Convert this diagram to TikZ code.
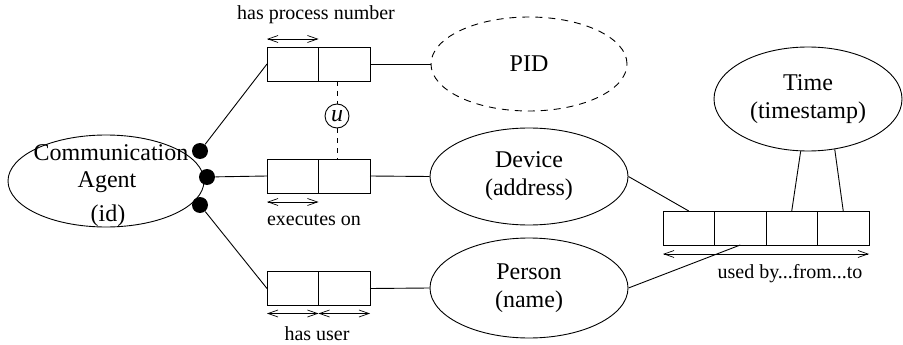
\documentclass[tikz,border=0pt]{standalone}
\usepackage{fontspec}
\setmainfont{Liberation Serif}
\usetikzlibrary{arrows.meta,shapes.geometric}

\begin{document}
\begin{tikzpicture}[x=1pt,y=-1pt, line width=0.9pt,
  big/.style={font=\fontsize{24}{28}\selectfont},
  small/.style={font=\fontsize{20}{24}\selectfont},
  ent/.style={draw, ellipse, inner sep=0pt, align=center, big},
  cell/.style={draw, minimum width=51.5pt, minimum height=34pt, inner sep=0pt, outer sep=0pt},
  card/.style={fill=black, circle, inner sep=0pt, minimum size=16pt},
  span/.style={{Straight Barb[length=10pt,width=7pt]}-{Straight Barb[length=10pt,width=7pt]}, line width=0.7pt},
  uline/.style={dash pattern=on 5pt off 5pt},
  ]
\useasboundingbox (0,0) rectangle (903,345);

% central entity
\node[ent, minimum width=196pt, minimum height=92pt] (agent) at (106,181) {};
\node[big, anchor=base] (agentA) at (111,160) {Communication};
\node[big, anchor=base] (agentB) at (107,187) {Agent};
\node[big, anchor=base] (agentC) at (108,221) {(id)};

% participation dots
\node[card] (d1) at (200,151) {};
\node[card] (d2) at (207,177) {};
\node[card] (d3) at (200,205) {};

% binary relationship boxes
\node[cell] (p1) at (292.75,64) {};
\node[cell] (p2) at (344.25,64) {};
\node[cell] (e1) at (292.75,176) {};
\node[cell] (e2) at (344.25,176) {};
\node[cell] (h1) at (292.75,288.5) {};
\node[cell] (h2) at (344.25,288.5) {};

% other entities
\node[ent, dash pattern=on 7pt off 6pt, minimum width=196pt, minimum height=94pt] (pid) at (529,64) {PID};
\node[ent, minimum width=198pt, minimum height=97pt] (dev) at (529,176.5) {Device\\(address)};
\node[ent, minimum width=198pt, minimum height=100pt] (per) at (529,288) {Person\\(name)};
\node[ent, minimum width=188pt, minimum height=104pt] (time) at (808,99) {Time\\(timestamp)};

% quaternary relationship box
\node[cell] (t1) at (688.75,228) {};
\node[cell] (t2) at (740.25,228) {};
\node[cell] (t3) at (791.75,228) {};
\node[cell] (t4) at (843.25,228) {};

% uniqueness constraint
\node[circle, draw, minimum size=24pt, inner sep=0pt, font=\itshape\fontsize{24}{24}\selectfont] (uniq) at (337,116) {u};

% connectors
\draw (d1) -- (p1.west);
\draw (d2) -- (e1.west);
\draw (d3) -- (h1.west);
\draw (p2.east) -- (pid.west);
\draw (e2.east) -- (dev.west);
\draw (h2.east) -- (per.west);
\draw (dev.east) -- (t1.north);
\draw (per.east) -- (t2.south);
\draw (t3.north) -- (time.262);
\draw (t4.north) -- (time.298);
\draw[uline] (p2.south -| uniq.north) -- (uniq.north);
\draw[uline] (uniq.south) -- (e2.north -| uniq.south);

% uniqueness spans
\draw[span] ([yshift=8pt]p1.north west) -- ([yshift=8pt]p1.north east);
\draw[span] ([yshift=-9pt]e1.south west) -- ([yshift=-9pt]e1.south east);
\draw[span] ([yshift=-8pt]h1.south west) -- ([yshift=-8pt]h1.south east);
\draw[span] ([yshift=-8pt]h2.south west) -- ([yshift=-8pt]h2.south east);
\draw[span] ([yshift=-9pt]t1.south west) -- ([yshift=-9pt]t4.south east);

% role labels
\node[small, anchor=base] (lp) at (316,20) {has process number};
\node[small, anchor=base] (le) at (314,225) {executes on};
\node[small, anchor=base] (lh) at (317,340) {has user};
\node[small, anchor=base] (lt) at (790,278) {used by...from...to};
\end{tikzpicture}
\end{document}
